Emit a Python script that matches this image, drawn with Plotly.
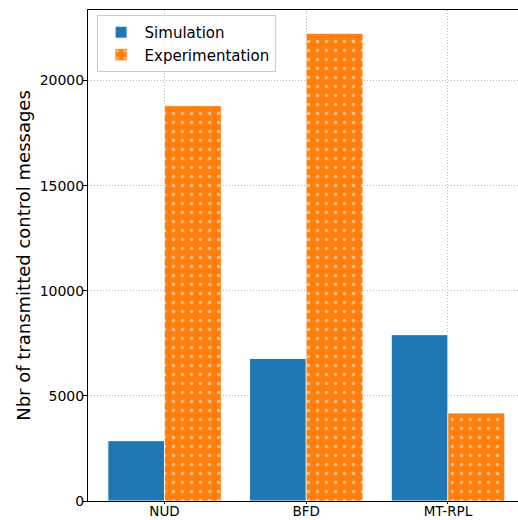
import plotly.graph_objects as go

# Control message counts per protocol
categories = ["NUD", "BFD", "MT-RPL"]
simulation = [2870, 6780, 7910]
experimentation = [18800, 22240, 4180]
y_ticks = [0, 5000, 10000, 15000, 20000]

x_pos = list(range(len(categories)))
bar_w = 0.4
ymax = max(simulation + experimentation) * 1.05

fig = go.Figure()
fig.add_trace(go.Bar(
    x=x_pos, y=simulation, name="Simulation",
    width=bar_w, offset=-bar_w,
    marker=dict(color="#1f77b4", line=dict(color="white", width=1)),
))
fig.add_trace(go.Bar(
    x=x_pos, y=experimentation, name="Experimentation",
    width=bar_w, offset=0,
    marker=dict(
        color="#ff7f0e",
        line=dict(color="rgba(255,255,255,0.6)", width=1),
        pattern=dict(shape=".", fgcolor="white", bgcolor="#ff7f0e",
                     size=9, solidity=0.12, fillmode="overlay"),
    ),
))

font = "DejaVu Sans, sans-serif"
grid = dict(showgrid=True, gridcolor="#b8b8b8", griddash="1px,2px", gridwidth=1)
fig.update_layout(
    width=518, height=520,
    margin=dict(l=88, r=0, t=10, b=19),
    barmode="overlay",
    plot_bgcolor="white", paper_bgcolor="white",
    font=dict(family=font, size=14, color="black"),
    showlegend=True,
    legend=dict(
        x=0.02, y=0.99, xanchor="left", yanchor="top",
        bgcolor="rgba(255,255,255,0.8)", bordercolor="#cccccc", borderwidth=1,
        font=dict(size=15), tracegroupgap=0, itemwidth=37,
    ),
    xaxis=dict(
        range=[-0.54, -0.54 + 430 / 141.7],
        tickvals=x_pos, ticktext=categories,
        showline=True, linecolor="black", linewidth=1, mirror=True,
        ticks="outside", ticklen=2, tickcolor="black",
        ticklabelstandoff=-4, tickfont=dict(size=13.5),
        zeroline=False, automargin=False, **grid,
    ),
    yaxis=dict(
        range=[0, ymax],
        tickvals=y_ticks, ticktext=[str(v) for v in y_ticks],
        showline=True, linecolor="black", linewidth=1, mirror=False,
        ticks="outside", ticklen=4, tickcolor="black",
        ticklabelstandoff=-4,
        zeroline=False, automargin=False, **grid,
        title=dict(text="Nbr of transmitted control messages",
                   font=dict(size=18), standoff=4),
    ),
)

fig.write_html("out.html")
